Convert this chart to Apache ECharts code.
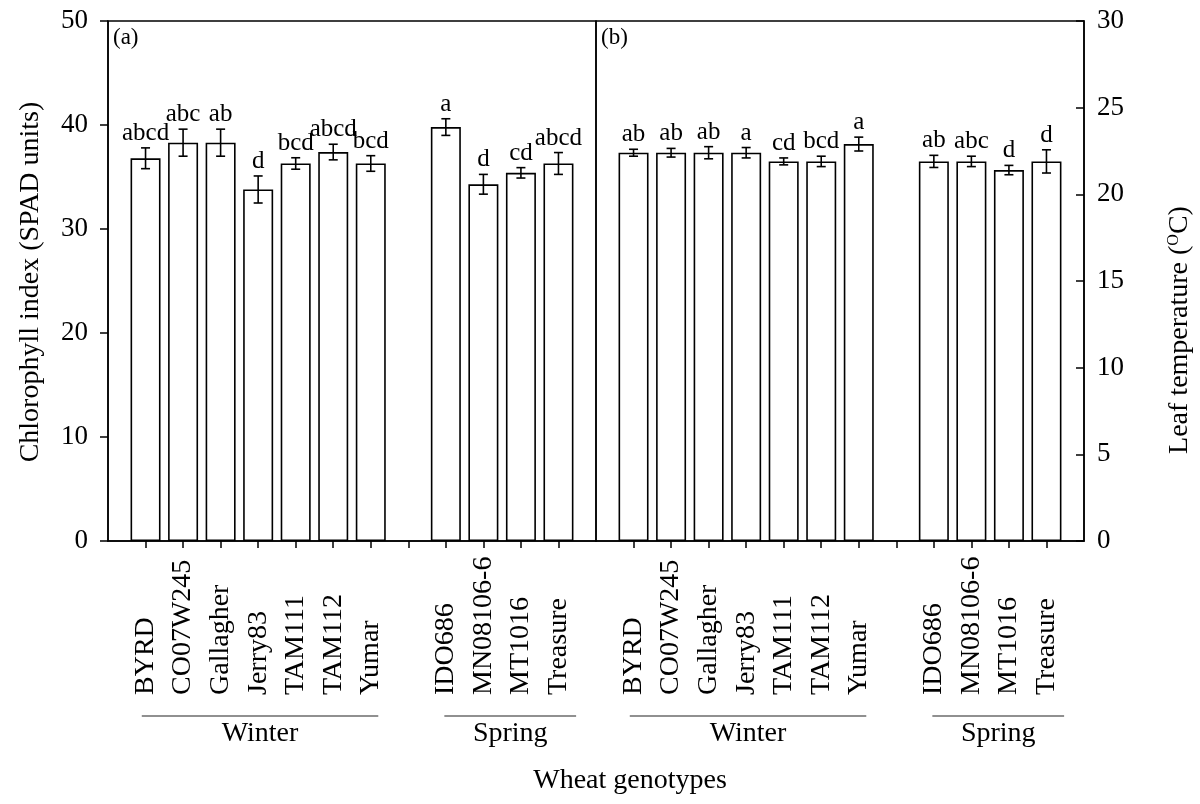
<!DOCTYPE html>
<html>
<head>
<meta charset="utf-8">
<script src="https://cdn.jsdelivr.net/npm/echarts@6/dist/echarts.min.js"></script>
<style>html,body{margin:0;padding:0;background:#fff;}#c{width:1200px;height:804px;}</style>
</head>
<body>
<div id="c"></div>
<script>
// ---- data ----
const winterGenotypes = ['BYRD', 'CO07W245', 'Gallagher', 'Jerry83', 'TAM111', 'TAM112', 'Yumar'];
const springGenotypes = ['IDO686', 'MN08106-6', 'MT1016', 'Treasure'];
const groupNames = ['Winter', 'Spring'];

const chlWinter = [36.8, 38.3, 38.3, 33.8, 36.3, 37.4, 36.3];
const chlWinterErr = [1.0, 1.3, 1.3, 1.3, 0.55, 0.75, 0.75];
const chlWinterLetters = ['abcd', 'abc', 'ab', 'd', 'bcd', 'abcd', 'bcd'];
const chlSpring = [39.8, 34.3, 35.4, 36.3];
const chlSpringErr = [0.8, 0.95, 0.5, 1.05];
const chlSpringLetters = ['a', 'd', 'cd', 'abcd'];

const tempWinter = [22.4, 22.4, 22.4, 22.4, 21.9, 21.9, 22.9];
const tempWinterErr = [0.2, 0.25, 0.35, 0.3, 0.2, 0.3, 0.4];
const tempWinterLetters = ['ab', 'ab', 'ab', 'a', 'cd', 'bcd', 'a'];
const tempSpring = [21.9, 21.9, 21.4, 21.9];
const tempSpringErr = [0.35, 0.3, 0.27, 0.67];
const tempSpringLetters = ['ab', 'abc', 'd', 'd'];

const chlTicks = [0, 10, 20, 30, 40, 50];
const tempTicks = [0, 5, 10, 15, 20, 25, 30];

// ---- build ----
const FONT = '"Liberation Serif", "Times New Roman", serif';
const categories = [''].concat(winterGenotypes, [' '], springGenotypes, ['  ']);
const idxWinter = winterGenotypes.map((_, i) => i + 1);
const idxSpring = springGenotypes.map((_, i) => winterGenotypes.length + 2 + i);

function barData(w, s) {
  const arr = categories.map(() => null);
  idxWinter.forEach((k, i) => arr[k] = w[i]);
  idxSpring.forEach((k, i) => arr[k] = s[i]);
  return arr;
}
function errData(w, we, s, se) {
  const out = [];
  idxWinter.forEach((k, i) => out.push([k, w[i], we[i]]));
  idxSpring.forEach((k, i) => out.push([k, s[i], se[i]]));
  return out;
}
function makeRender(letters) {
  return function (params, api) {
    const x = api.value(0), v = api.value(1), e = api.value(2);
    const top = api.coord([x, v + e]);
    const bot = api.coord([x, v - e]);
    const cap = 4.5;
    const ls = {stroke: '#000', lineWidth: 1.6};
    return {
      type: 'group',
      children: [
        {type: 'line', shape: {x1: top[0], y1: top[1], x2: bot[0], y2: bot[1]}, style: ls},
        {type: 'line', shape: {x1: top[0] - cap, y1: top[1], x2: top[0] + cap, y2: top[1]}, style: ls},
        {type: 'line', shape: {x1: bot[0] - cap, y1: bot[1], x2: bot[0] + cap, y2: bot[1]}, style: ls},
        {type: 'text', style: {text: letters[params.dataIndex], x: top[0], y: top[1] - 2, align: 'center', verticalAlign: 'bottom',
          fontSize: 25, fontFamily: FONT, fill: '#000'}}
      ]
    };
  };
}
const chlLetters = chlWinterLetters.concat(chlSpringLetters);
const tempLetters = tempWinterLetters.concat(tempSpringLetters);

const gridCommon = {top: 21, height: 520, width: 488, show: true, borderColor: '#000', borderWidth: 1.5, backgroundColor: 'transparent'};

function xAxisCfg(gi) {
  return {
    type: 'category', gridIndex: gi, data: categories, boundaryGap: false,
    axisLine: {show: true, lineStyle: {color: '#000', width: 1.5}},
    axisTick: {show: true, length: 7, lineStyle: {color: '#000', width: 1.5},
      interval: (i) => i > 0 && i < categories.length - 1},
    axisLabel: {show: true, interval: 0, rotate: 90, align: 'left', verticalAlign: 'middle', margin: 154,
      color: '#000', fontSize: 28, fontFamily: FONT},
    splitLine: {show: false}
  };
}
const yLabel = {color: '#000', fontSize: 27, fontFamily: FONT};

const option = {
  animation: false,
  backgroundColor: '#fff',
  grid: [Object.assign({left: 108}, gridCommon), Object.assign({left: 596}, gridCommon)],
  xAxis: [xAxisCfg(0), xAxisCfg(1)],
  yAxis: [
    {type: 'value', gridIndex: 0, min: chlTicks[0], max: chlTicks[chlTicks.length - 1], interval: chlTicks[1] - chlTicks[0],
      axisLine: {show: true, lineStyle: {color: '#000', width: 1.5}},
      axisTick: {show: true, length: 8, lineStyle: {color: '#000', width: 1.5}},
      axisLabel: Object.assign({margin: 20}, yLabel), splitLine: {show: false}},
    {type: 'value', gridIndex: 1, position: 'right', min: tempTicks[0], max: tempTicks[tempTicks.length - 1], interval: tempTicks[1] - tempTicks[0],
      axisLine: {show: true, lineStyle: {color: '#000', width: 1.5}},
      axisTick: {show: true, inside: true, length: 8, lineStyle: {color: '#000', width: 1.5}},
      axisLabel: Object.assign({margin: 13}, yLabel), splitLine: {show: false}}
  ],
  series: [
    {type: 'bar', xAxisIndex: 0, yAxisIndex: 0, data: barData(chlWinter, chlSpring), barWidth: 30,
      itemStyle: {color: '#fff', borderColor: '#000', borderWidth: 1.6}},
    {type: 'custom', xAxisIndex: 0, yAxisIndex: 0, data: errData(chlWinter, chlWinterErr, chlSpring, chlSpringErr),
      renderItem: makeRender(chlLetters), z: 5, clip: false},
    {type: 'bar', xAxisIndex: 1, yAxisIndex: 1, data: barData(tempWinter, tempSpring), barWidth: 30,
      itemStyle: {color: '#fff', borderColor: '#000', borderWidth: 1.6}},
    {type: 'custom', xAxisIndex: 1, yAxisIndex: 1, data: errData(tempWinter, tempWinterErr, tempSpring, tempSpringErr),
      renderItem: makeRender(tempLetters), z: 5, clip: false}
  ]
};

const chart = echarts.init(document.getElementById('c'));
chart.setOption(option);

// ---- decorations positioned from the axes ----
const groupSpans = [[0.9, 7.2], [8.96, 12.47]];
const graphics = [];
[0, 1].forEach(gi => {
  const x0 = chart.convertToPixel({xAxisIndex: gi}, 0);
  const step = chart.convertToPixel({xAxisIndex: gi}, 1) - x0;
  const yBase = chart.convertToPixel({yAxisIndex: gi}, 0);
  const yTop = gi === 0 ? chart.convertToPixel({yAxisIndex: 0}, chlTicks[chlTicks.length - 1]) : chart.convertToPixel({yAxisIndex: 1}, tempTicks[tempTicks.length - 1]);
  graphics.push({type: 'text', left: x0 + 5, top: yTop + 5,
    style: {text: gi === 0 ? '(a)' : '(b)', fontSize: 23, fontFamily: FONT, fill: '#000'}});
  groupSpans.forEach((sp, k) => {
    const xa = x0 + step * sp[0], xb = x0 + step * sp[1];
    graphics.push({type: 'line', shape: {x1: xa, y1: yBase + 175, x2: xb, y2: yBase + 175}, style: {stroke: '#222', lineWidth: 1.2}});
    graphics.push({type: 'text', x: (xa + xb) / 2, y: yBase + 179,
      style: {text: groupNames[k], align: 'center', verticalAlign: 'top', fontSize: 28, fontFamily: FONT, fill: '#000'}});
  });
});
graphics.push({type: 'text', x: 630, y: 781,
  style: {text: 'Wheat genotypes', align: 'center', verticalAlign: 'middle', fontSize: 28, fontFamily: FONT, fill: '#000'}});
graphics.push({type: 'text', x: 31, y: 282, rotation: Math.PI / 2,
  style: {text: 'Chlorophyll index (SPAD units)', align: 'center', verticalAlign: 'middle', fontSize: 28, fontFamily: FONT, fill: '#000'}});
graphics.push({type: 'text', x: 1180, y: 330, rotation: Math.PI / 2,
  style: {text: '{n|Leaf temperature (}{s|O}{n|C)}', align: 'center', verticalAlign: 'middle',
    rich: {n: {fontSize: 28, fontFamily: FONT, color: '#000'}, s: {fontSize: 16, fontFamily: FONT, color: '#000', verticalAlign: 'top', padding: [0, 0, 12, 0]}}}});
chart.setOption({graphic: graphics});
</script>
</body>
</html>
